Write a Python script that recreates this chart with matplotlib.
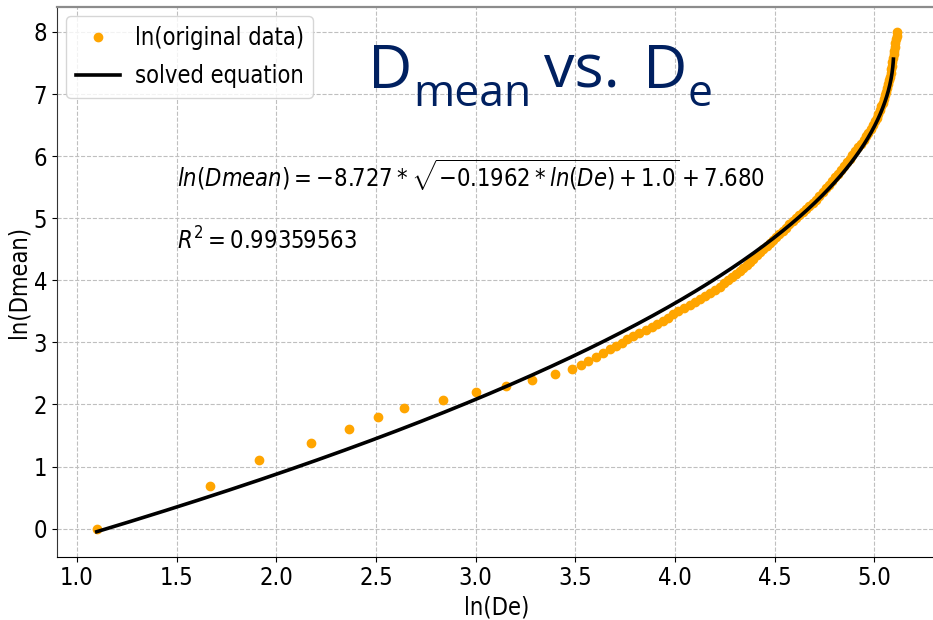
import matplotlib
matplotlib.use("Agg")
import matplotlib.pyplot as plt
import numpy as np
from matplotlib import rcParams

rcParams['font.family'] = 'DejaVu Sans'
rcParams['font.stretch'] = 'condensed'
rcParams['mathtext.fontset'] = 'custom'
rcParams['mathtext.rm'] = 'DejaVu Sans:stretch=condensed'
rcParams['mathtext.it'] = 'DejaVu Sans:italic:stretch=condensed'
rcParams['mathtext.bf'] = 'DejaVu Sans:bold:stretch=condensed'

# ln(De) / ln(Dmean) pairs (sparse low end, then the dense tail)
ln_De = [1.099, 1.665, 1.912, 2.175, 2.365, 2.509, 2.639, 2.836, 3.003, 3.154,
         3.282, 3.396, 3.483, 3.528, 3.566, 3.603, 3.638, 3.673, 3.705, 3.732,
         3.760, 3.790, 3.820, 3.853, 3.883, 3.911, 3.939, 3.965, 3.991, 4.017,
         4.045, 4.073, 4.099, 4.124, 4.149, 4.175, 4.201, 4.224, 4.246, 4.266,
         4.285, 4.306, 4.326, 4.343, 4.360, 4.376, 4.392, 4.410, 4.427, 4.444,
         4.460, 4.476, 4.490, 4.507, 4.523, 4.540, 4.557, 4.574, 4.590, 4.607,
         4.624, 4.641, 4.658, 4.675, 4.692, 4.708, 4.725, 4.742, 4.758, 4.774,
         4.790, 4.805, 4.820, 4.835, 4.849, 4.862, 4.876, 4.890, 4.903, 4.918,
         4.932, 4.946, 4.959, 4.971, 4.983, 4.994, 5.004, 5.013, 5.021, 5.029,
         5.036, 5.042, 5.048, 5.054, 5.060, 5.065, 5.070, 5.074, 5.078, 5.082,
         5.085, 5.088, 5.091, 5.094, 5.097, 5.100, 5.103, 5.106, 5.109, 5.112,
         5.114]
ln_Dmean = [0.000, 0.693, 1.099, 1.386, 1.609, 1.792, 1.946, 2.079, 2.197, 2.303,
            2.398, 2.485, 2.565, 2.639, 2.708, 2.773, 2.833, 2.890, 2.944, 2.996,
            3.05, 3.10, 3.15, 3.20, 3.25, 3.30, 3.35, 3.40, 3.45, 3.50,
            3.55, 3.60, 3.65, 3.70, 3.75, 3.80, 3.85, 3.90, 3.95, 4.00,
            4.05, 4.10, 4.15, 4.20, 4.25, 4.30, 4.35, 4.40, 4.45, 4.50,
            4.55, 4.60, 4.65, 4.70, 4.75, 4.80, 4.85, 4.90, 4.95, 5.00,
            5.05, 5.10, 5.15, 5.20, 5.25, 5.30, 5.36, 5.42, 5.48, 5.54,
            5.60, 5.66, 5.72, 5.78, 5.84, 5.90, 5.96, 6.02, 6.08, 6.14,
            6.20, 6.26, 6.32, 6.38, 6.44, 6.50, 6.56, 6.62, 6.68, 6.74,
            6.80, 6.86, 6.92, 6.98, 7.04, 7.10, 7.16, 7.22, 7.28, 7.34,
            7.40, 7.46, 7.52, 7.58, 7.64, 7.70, 7.76, 7.82, 7.88, 7.94,
            8.00]

# fitted parameters: y = a*sqrt(b*x + c) + d
a, b, c, d = -8.727, -0.1962, 1.0, 7.680
r_squared = 0.99359563

NAVY = '#002060'


def plot_fit(x, y):
    fig = plt.figure(figsize=(9.33, 6.2), dpi=100)
    ax = fig.add_axes([0.0608, 0.1021, 0.9435, 0.8866])

    ax.plot(x, y, 'o', color='orange', ms=6, label='ln(original data)', zorder=2)

    x_fit = np.linspace(min(x), max(x), 4000)
    with np.errstate(invalid='ignore'):
        y_fit = a * np.sqrt(b * x_fit + c) + d
    ax.plot(x_fit, y_fit, color='black', lw=2.6, label='solved equation', zorder=3)

    ax.text(1.5, 5.5, r'$ln(Dmean) = -8.727*\sqrt{-0.1962*ln(De)+1.0}+7.680$',
            fontsize=17)
    ax.text(1.5, 4.5, r'$R^2 = %.8f$' % r_squared, fontsize=17)

    ax.set_xlabel('ln(De)', fontsize=17)
    ax.set_ylabel('ln(Dmean)', fontsize=17, labelpad=2)
    ax.tick_params(labelsize=17)
    ax.set_xticks(np.arange(1.0, 5.01, 0.5))
    ax.grid(True, linestyle='--', color='0.75', lw=0.8)
    ax.margins(0.05)

    ax.spines['top'].set_color('0.55')
    ax.spines['top'].set_linewidth(1.6)
    ax.spines['left'].set_color('0.2')
    ax.spines['right'].set_visible(False)
    ax.legend(loc='upper left', fontsize=17, handlelength=1.9, handletextpad=0.6,
              borderaxespad=0.4, labelspacing=0.6)

    # title pieces (big D with subscripts)
    def px(xp, yp):
        return xp / 933, 1 - yp / 620
    title_font = dict(color=NAVY, family='Open Sans', stretch='normal',
                      weight='normal')
    fig.text(*px(368, 88), 'D', fontsize=44, **title_font)
    fig.text(*px(413, 106), 'mean', fontsize=32, **title_font)
    fig.text(*px(544, 88), 'vs.', fontsize=44, **title_font)
    fig.text(*px(643, 88), 'D', fontsize=44, **title_font)
    fig.text(*px(688, 106), 'e', fontsize=32, **title_font)
    return fig, ax


if __name__ == "__main__":
    fig, ax = plot_fit(ln_De, ln_Dmean)
    plt.savefig('out.png', dpi=100)
